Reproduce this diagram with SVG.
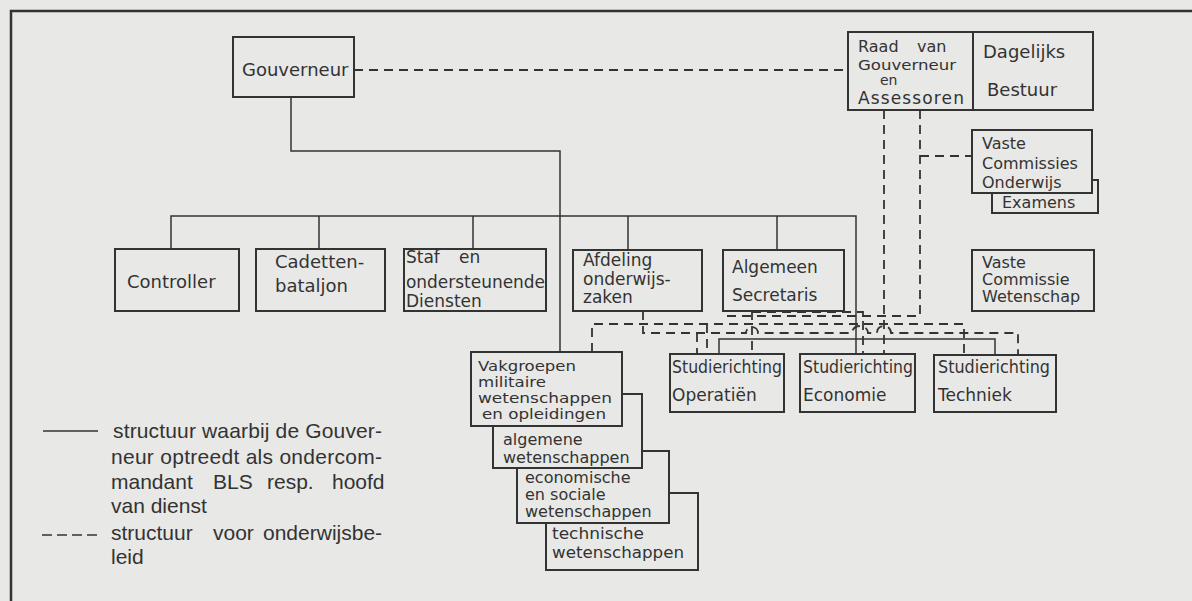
<svg xmlns="http://www.w3.org/2000/svg" width="1192" height="601" viewBox="0 0 1192 601">
<style>
.box{fill:#e8e8e6;stroke:#333;stroke-width:2}
.t{font-family:"DejaVu Sans",sans-serif;fill:#333}
.s18{font-size:18px}.s17{font-size:17px}.s16{font-size:16px}.s15{font-size:15px}.s14{font-size:14px}
.sol{fill:none;stroke:#333;stroke-width:1.5}
.dash{fill:none;stroke:#333;stroke-width:1.8;stroke-dasharray:9 6}
.lg{font-family:"Liberation Sans",Arial,sans-serif;font-size:21px;fill:#333}
</style>
<rect x="0" y="0" width="1192" height="601" fill="#e8e8e6"/>
<g id="frame" fill="none" stroke="#333" stroke-width="2.5">
<path d="M11,601 V11 H1192"/>
</g>
<g id="connectors">
<path class="sol" d="M291,97 V151 H560 V352"/>
<path class="sol" d="M171,249 V216 H856 V354"/>
<path class="sol" d="M319,216 V249 M473,216 V249 M628,216 V250 M777,216 V250"/>
<path class="sol" d="M719,354 V339 H995 V355"/>
<path class="dash" d="M354,70 H848"/>
<path class="dash" d="M884,110 V354"/>
<path class="dash" d="M920,110 V316 H725"/>
<path class="dash" d="M920,156 H972"/>
<path class="dash" d="M752,311 V354"/>
<path class="dash" d="M752,312 H863 V354"/>
<path class="dash" d="M592,352 V324 H964 V355"/>
<path class="dash" d="M707,324 V354"/>
<path class="dash" d="M643,311 V333 H746 a6,6 0 0 1 12,0 H852 a8,7 0 0 1 16,0 H877 a7,7 0 0 1 14,0 H1018 V355"/>
<path class="dash" d="M697,333 V354"/>
</g>
<g id="gouverneur">
<rect class="box" x="233" y="37" width="121" height="60"/>
<text class="t s18" x="242" y="76">Gouverneur</text>
</g>
<g id="raad">
<rect class="box" x="848" y="32" width="125" height="78"/>
<text class="t s16" x="858" y="52">Raad</text>
<text class="t s16" x="917" y="52">van</text>
<text class="t s14" x="858" y="70" textLength="98" lengthAdjust="spacingAndGlyphs">Gouverneur</text>
<text class="t s14" x="880" y="85">en</text>
<text class="t s17" x="858" y="104" textLength="106">Assessoren</text>
</g>
<g id="dagelijks-bestuur">
<rect class="box" x="973" y="32" width="120" height="78"/>
<text class="t s18" x="983" y="58">Dagelijks</text>
<text class="t s18" x="987" y="96">Bestuur</text>
</g>
<g id="examens">
<rect class="box" x="992" y="180" width="106" height="33"/>
<text class="t s16" x="1002" y="208">Examens</text>
</g>
<g id="vaste-commissies-onderwijs">
<rect class="box" x="972" y="130" width="120" height="63"/>
<text class="t s16" x="982" y="149">Vaste</text>
<text class="t s16" x="982" y="169">Commissies</text>
<text class="t s16" x="982" y="188">Onderwijs</text>
</g>
<g id="vaste-commissie-wetenschap">
<rect class="box" x="972" y="250" width="122" height="61"/>
<text class="t s16" x="982" y="268">Vaste</text>
<text class="t s16" x="982" y="285">Commissie</text>
<text class="t s16" x="982" y="302">Wetenschap</text>
</g>
<g id="controller">
<rect class="box" x="115" y="249" width="124" height="62"/>
<text class="t s18" x="127" y="288">Controller</text>
</g>
<g id="cadettenbataljon">
<rect class="box" x="256" y="249" width="129" height="62"/>
<text class="t s18" x="275" y="268">Cadetten-</text>
<text class="t s18" x="275" y="292">bataljon</text>
</g>
<g id="staf">
<rect class="box" x="404" y="249" width="142" height="62"/>
<text class="t s17" x="406" y="263">Staf</text>
<text class="t s17" x="459" y="263">en</text>
<text class="t s17" x="406" y="288" textLength="139" lengthAdjust="spacingAndGlyphs">ondersteunende</text>
<text class="t s17" x="406" y="307">Diensten</text>
</g>
<g id="afdeling-onderwijszaken">
<rect class="box" x="573" y="250" width="129" height="61"/>
<text class="t s17" x="583" y="266">Afdeling</text>
<text class="t s17" x="583" y="285">onderwijs-</text>
<text class="t s17" x="583" y="303">zaken</text>
</g>
<g id="algemeen-secretaris">
<rect class="box" x="723" y="250" width="121" height="61"/>
<text class="t s17" x="732" y="273">Algemeen</text>
<text class="t s17" x="732" y="301">Secretaris</text>
</g>
<g id="studierichting-operatien">
<rect class="box" x="670" y="354" width="114" height="58"/>
<text class="t s17" x="672" y="373" textLength="110" lengthAdjust="spacingAndGlyphs">Studierichting</text>
<text class="t s17" x="672" y="401">Operatiën</text>
</g>
<g id="studierichting-economie">
<rect class="box" x="800" y="354" width="115" height="58"/>
<text class="t s17" x="803" y="373" textLength="110" lengthAdjust="spacingAndGlyphs">Studierichting</text>
<text class="t s17" x="803" y="401">Economie</text>
</g>
<g id="studierichting-techniek">
<rect class="box" x="934" y="355" width="122" height="57"/>
<text class="t s17" x="938" y="373" textLength="112" lengthAdjust="spacingAndGlyphs">Studierichting</text>
<text class="t s17" x="938" y="401">Techniek</text>
</g>
<g id="technische-wetenschappen">
<rect class="box" x="546" y="493" width="152" height="77"/>
<text class="t s15" x="552" y="539" textLength="92" lengthAdjust="spacingAndGlyphs">technische</text>
<text class="t s15" x="552" y="558" textLength="132" lengthAdjust="spacingAndGlyphs">wetenschappen</text>
</g>
<g id="economische-sociale-wetenschappen">
<rect class="box" x="517" y="451" width="152" height="72"/>
<text class="t s16" x="525" y="483">economische</text>
<text class="t s16" x="525" y="500">en sociale</text>
<text class="t s16" x="525" y="517">wetenschappen</text>
</g>
<g id="algemene-wetenschappen">
<rect class="box" x="493" y="394" width="149" height="74"/>
<text class="t s16" x="503" y="445">algemene</text>
<text class="t s16" x="503" y="463">wetenschappen</text>
</g>
<g id="vakgroepen">
<rect class="box" x="471" y="352" width="151" height="74"/>
<text class="t s14" x="478" y="371" textLength="98" lengthAdjust="spacingAndGlyphs">Vakgroepen</text>
<text class="t s14" x="478" y="387" textLength="68" lengthAdjust="spacingAndGlyphs">militaire</text>
<text class="t s14" x="478" y="403" textLength="134" lengthAdjust="spacingAndGlyphs">wetenschappen</text>
<text class="t s14" x="482" y="419" textLength="124" lengthAdjust="spacingAndGlyphs">en opleidingen</text>
</g>
<g id="legend">
<line x1="43" y1="431" x2="98" y2="431" stroke="#333" stroke-width="1.5"/>
<line x1="42" y1="535" x2="97" y2="535" stroke="#333" stroke-width="1.5" stroke-dasharray="10 5"/>
<text class="lg" x="113" y="438" textLength="269">structuur waarbij de Gouver-</text>
<text class="lg" x="111" y="464" textLength="271">neur optreedt als ondercom-</text>
<text class="lg" x="111" y="489">mandant</text>
<text class="lg" x="213" y="489">BLS</text>
<text class="lg" x="267" y="489">resp.</text>
<text class="lg" x="332" y="489">hoofd</text>
<text class="lg" x="111" y="513">van dienst</text>
<text class="lg" x="111" y="540">structuur</text>
<text class="lg" x="213" y="540">voor</text>
<text class="lg" x="263" y="540">onderwijsbe-</text>
<text class="lg" x="111" y="564">leid</text>
</g>
</svg>
